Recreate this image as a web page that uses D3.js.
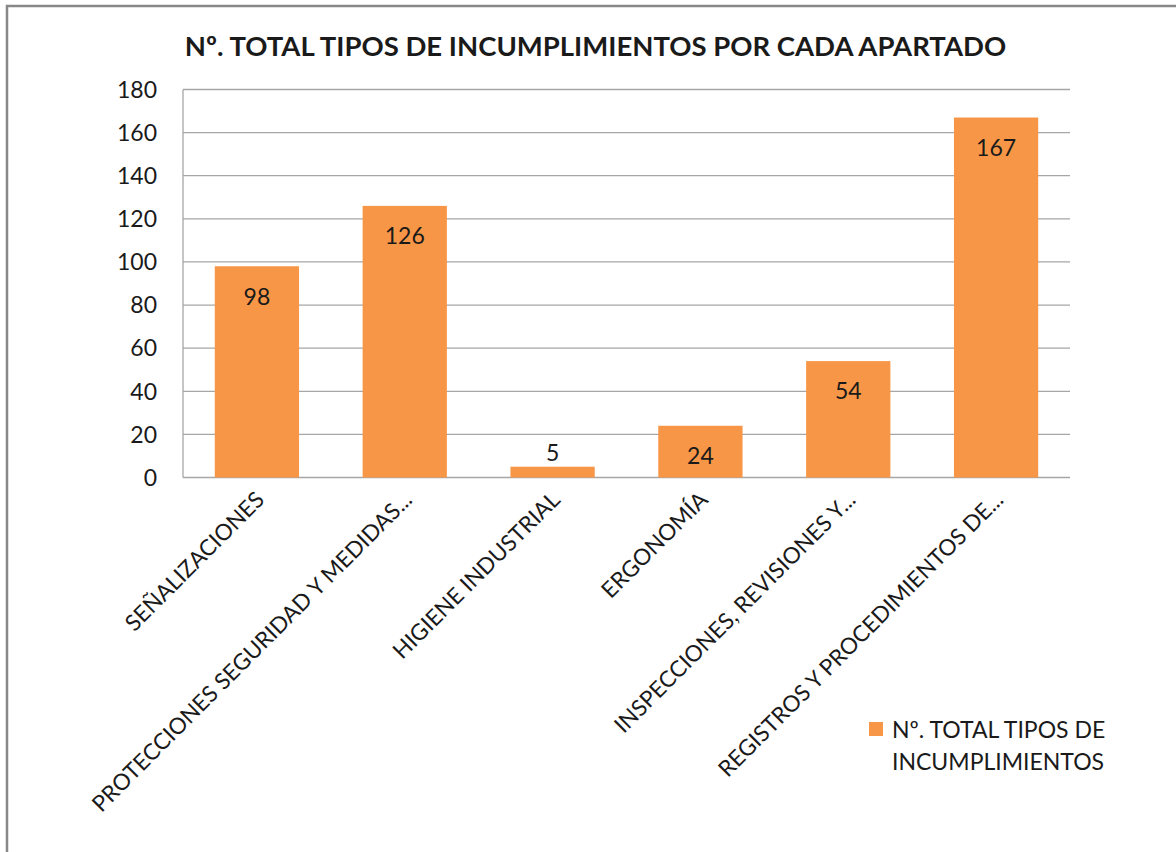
<!DOCTYPE html>
<meta charset="utf-8">
<style>
  body { margin: 0; background: #fff; }
  text { font-family: Lato, "Liberation Sans", sans-serif; fill: #1a1a1a; }
</style>
<body>
<script src="https://d3js.org/d3.v7.min.js"></script>
<script>
  const categories = [
    "SEÑALIZACIONES",
    "PROTECCIONES SEGURIDAD Y MEDIDAS...",
    "HIGIENE INDUSTRIAL",
    "ERGONOMÍA",
    "INSPECCIONES, REVISIONES Y...",
    "REGISTROS Y PROCEDIMIENTOS DE..."
  ];
  const values = [98, 126, 5, 24, 54, 167];
  const yTicks = [0, 20, 40, 60, 80, 100, 120, 140, 160, 180];
  const title = "Nº. TOTAL TIPOS DE INCUMPLIMIENTOS POR CADA APARTADO";
  const legendLines = ["Nº. TOTAL TIPOS DE", "INCUMPLIMIENTOS"];

  const W = 1176, H = 852;
  const pLeft = 183, pRight = 1070, pTop = 89.5, pBottom = 477.5;
  const orange = "#f79646";

  const svg = d3.select("body").append("svg")
    .attr("width", W).attr("height", H);

  // chart frame (only top and left edges visible)
  svg.append("rect")
    .attr("x", 7).attr("y", 6).attr("width", W).attr("height", H)
    .attr("fill", "#fff").attr("stroke", "#888").attr("stroke-width", 2.5);

  svg.append("text")
    .attr("x", (pLeft + 1008) / 2).attr("y", 56)
    .attr("text-anchor", "middle")
    .style("font-weight", "bold").style("font-size", "27.5px")
    .text(title);

  const x = d3.scaleBand().domain(categories).range([pLeft, pRight]).paddingInner(0.43).paddingOuter(0.215);
  const y = d3.scaleLinear().domain([0, 180]).range([pBottom, pTop]);

  // gridlines
  svg.append("g").selectAll("line").data(yTicks).join("line")
    .attr("x1", pLeft).attr("x2", pRight)
    .attr("y1", d => y(d)).attr("y2", d => y(d))
    .attr("stroke", "#a6a6a6").attr("stroke-width", 1.3);

  svg.append("line")
    .attr("x1", pLeft).attr("x2", pLeft).attr("y1", pTop).attr("y2", pBottom)
    .attr("stroke", "#a6a6a6").attr("stroke-width", 1.3);

  // y tick labels
  svg.append("g").selectAll("text").data(yTicks).join("text")
    .attr("x", 157).attr("y", d => y(d))
    .attr("dy", "0.36em")
    .attr("text-anchor", "end")
    .style("font-size", "23px")
    .text(d => d);

  // bars
  svg.append("g").selectAll("rect").data(values).join("rect")
    .attr("x", (d, i) => x(categories[i]))
    .attr("width", x.bandwidth())
    .attr("y", d => y(d))
    .attr("height", d => y(0) - y(d))
    .attr("fill", orange);

  // value labels
  svg.append("g").selectAll("text").data(values).join("text")
    .attr("x", (d, i) => x(categories[i]) + x.bandwidth() / 2)
    .attr("y", d => (y(0) - y(d) > 40 ? y(d) + 30 : y(d) - 14))
    .attr("dy", "0.36em")
    .attr("text-anchor", "middle")
    .style("font-size", "23px")
    .text(d => d);

  // rotated category labels
  svg.append("g").selectAll("text").data(categories).join("text")
    .attr("transform", d => `translate(${x(d) + x.bandwidth() / 2 + 3},${pBottom + 18}) rotate(-45)`)
    .attr("dy", "0.36em")
    .attr("text-anchor", "end")
    .style("font-size", "22.5px")
    .text(d => d);

  // legend
  const lg = svg.append("g");
  lg.append("rect")
    .attr("x", 869).attr("y", 722).attr("width", 14).attr("height", 14)
    .attr("fill", orange);
  lg.selectAll("text").data(legendLines).join("text")
    .attr("x", 892).attr("y", (d, i) => 730 + i * 32)
    .attr("dy", "0.36em")
    .style("font-size", "23px")
    .text(d => d);
</script>
</body>
